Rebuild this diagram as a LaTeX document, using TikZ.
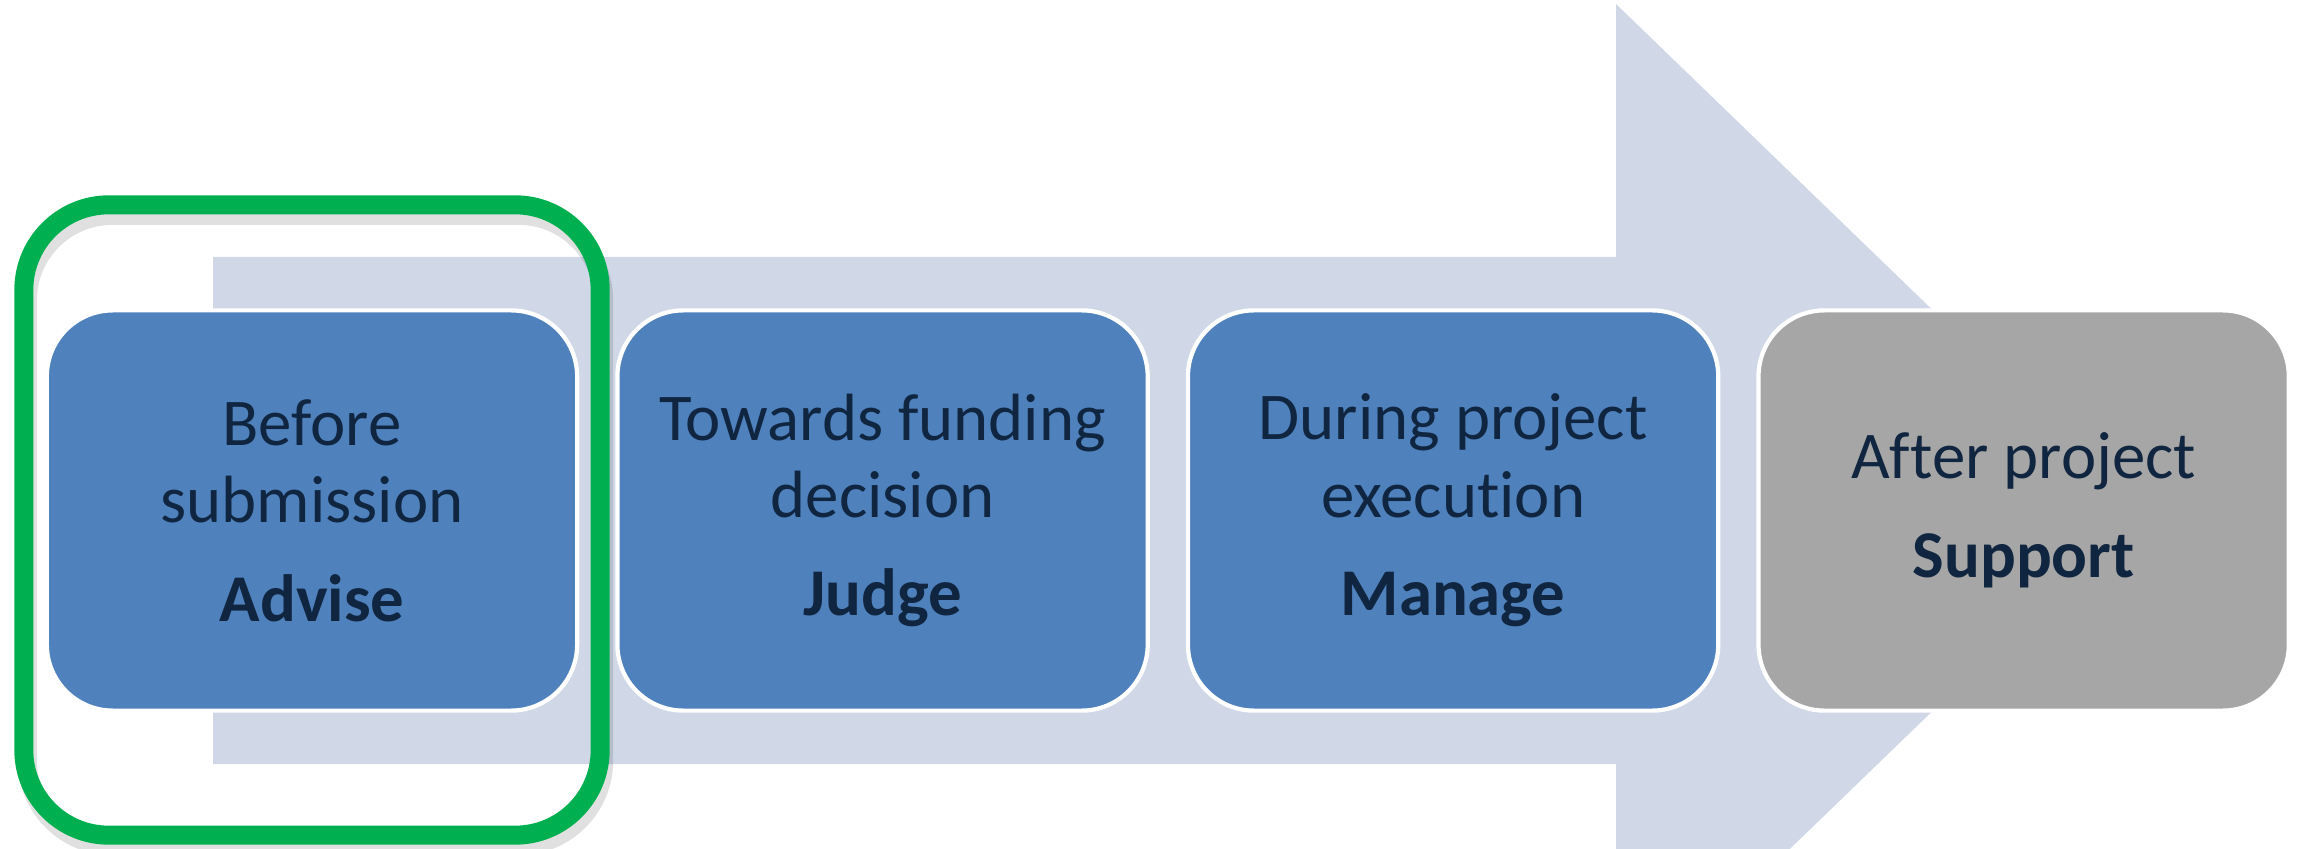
\documentclass[tikz,border=0pt]{standalone}
\usepackage{fontspec}
\setmainfont[Ligatures=NoCommon]{Carlito}
\usepackage{tikz}
\usetikzlibrary{positioning}

\definecolor{arrowbg}{HTML}{D0D8E8}
\definecolor{stageblue}{HTML}{4F81BD}
\definecolor{stagegray}{HTML}{A6A6A6}
\definecolor{textnavy}{HTML}{10253F}
\definecolor{framegreen}{HTML}{00B050}

\tikzset{
  stage/.style={draw=white, line width=1.2pt, rounded corners=0.66cm,
    minimum width=5.3cm, minimum height=4.0cm, inner sep=0pt,
    text=textnavy, align=center, font=\fontsize{19}{22}\selectfont},
  focus/.style={draw=framegreen, line width=0.19cm, rounded corners=0.85cm,
    minimum width=5.76cm, minimum height=6.3cm},
}

\begin{document}
\begin{tikzpicture}[x=0.01cm,y=0.01cm]
\useasboundingbox (0,0) rectangle (2303,848);
\clip (0,0) rectangle (2303,848);
% background arrow
\fill[arrowbg] (213,591) -- (1616,591) -- (1616,844) -- (2140,337.5)
  -- (1616,-169) -- (1616,84) -- (213,84) -- cycle;
% the four stages
\node[stage, fill=stageblue] (advise) at (312,337.5)
  {Before\\submission\\[6pt]\textbf{Advise}};
\node[stage, fill=stageblue, right=0.36cm of advise] (judge)
  {Towards funding\\decision\\[6pt]\textbf{Judge}};
\node[stage, fill=stageblue, right=0.36cm of judge] (manage)
  {During project\\execution\\[6pt]\textbf{Manage}};
\node[stage, fill=stagegray, right=0.36cm of manage] (support)
  {After project\\[6pt]\textbf{Support}};
% green frame round the first stage
\node[focus, draw=black, opacity=0.12, xshift=1, yshift=-3] (shade) at (312,328) {};
\node[focus] (frame) at (312,328) {};
\end{tikzpicture}
\end{document}
